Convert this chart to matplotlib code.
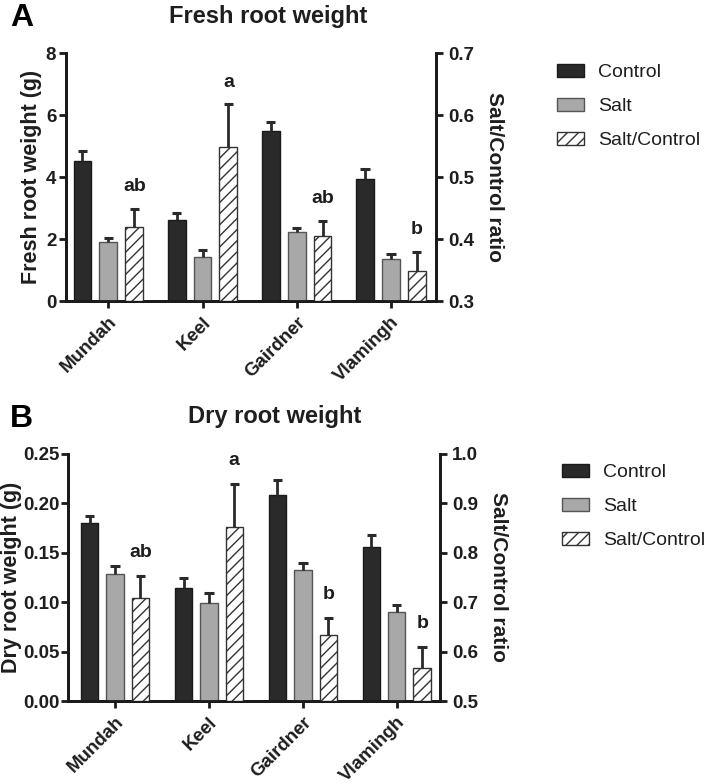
import matplotlib
matplotlib.use("Agg")
import matplotlib.pyplot as plt
from matplotlib.patches import Patch
import numpy as np

plt.rcParams['font.family'] = ['Liberation Sans', 'DejaVu Sans']
plt.rcParams['hatch.linewidth'] = 1.0
plt.rcParams['hatch.color'] = '#222222'

cultivars = ['Mundah', 'Keel', 'Gairdner', 'Vlamingh']

# Fresh root weight (g)
fresh_control = [4.53, 2.60, 5.48, 3.95]
fresh_control_err = [0.30, 0.25, 0.31, 0.32]
fresh_salt = [1.90, 1.43, 2.21, 1.37]
fresh_salt_err = [0.14, 0.20, 0.15, 0.14]
fresh_ratio = [0.420, 0.548, 0.405, 0.349]
fresh_ratio_err = [0.029, 0.069, 0.024, 0.030]
fresh_letters = ['ab', 'a', 'ab', 'b']

# Dry root weight (g)
dry_control = [0.180, 0.114, 0.209, 0.156]
dry_control_err = [0.007, 0.010, 0.015, 0.012]
dry_salt = [0.129, 0.099, 0.133, 0.090]
dry_salt_err = [0.008, 0.010, 0.007, 0.007]
dry_ratio = [0.709, 0.852, 0.634, 0.567]
dry_ratio_err = [0.044, 0.088, 0.034, 0.042]
dry_letters = ['ab', 'a', 'b', 'b']

DARK = '#2a2a2a'
GREY = '#a8a8a8'
TXT = '#1e1e1e'


def err_up(ax, x, vals, errs, half):
    vals = np.array(vals)
    tops = vals + np.array(errs)
    ax.vlines(x, vals, tops, color=DARK, lw=2.0, zorder=4)
    ax.hlines(tops, x - half, x + half, color=DARK, lw=2.2, zorder=4)
    return tops


def panel(rect, ctrl, ctrl_e, salt, salt_e, ratio, ratio_e, letters,
          ylim, yticks, yfmt, rlim, rticks, ylabel, xlim, off, width,
          letter_pad, ylab_x, ypad):
    ax = fig.add_axes(rect)
    ax2 = ax.twinx()
    x = np.arange(len(cultivars))

    ax.bar(x - off, ctrl, width, color=DARK, edgecolor='#1a1a1a', lw=1.0, zorder=3)
    ax.bar(x, salt, width, color=GREY, edgecolor='#555555', lw=1.0, zorder=3)
    err_up(ax, x - off, ctrl, ctrl_e, 0.05)
    err_up(ax, x, salt, salt_e, 0.05)

    base = rlim[0]
    ax2.bar(x + off, np.array(ratio) - base, width, bottom=base, color='white',
            edgecolor='#333333', hatch='///', lw=1.0, zorder=3)
    tops = err_up(ax2, x + off, ratio, ratio_e, 0.05)
    for xi, t, lab in zip(x + off, tops, letters):
        ax2.annotate(lab, (xi, t), xytext=(0, letter_pad), textcoords='offset points',
                     ha='center', va='center', fontsize=14, fontweight='bold', color=TXT)

    ax.set_xlim(*xlim)
    ax.set_ylim(*ylim)
    ax2.set_ylim(*rlim)
    ax.set_yticks(yticks)
    ax.set_yticklabels([yfmt.format(v) for v in yticks])
    ax2.set_yticks(rticks)
    ax2.set_yticklabels(['{:.1f}'.format(v) for v in rticks])
    ax.set_xticks(x)
    ax.set_xticklabels(cultivars, rotation=45, ha='right', va='top',
                       rotation_mode='anchor', fontsize=13.5, fontweight='bold', color=TXT)

    for a in (ax, ax2):
        a.spines['top'].set_visible(False)
        for s in ('left', 'right', 'bottom'):
            a.spines[s].set_linewidth(2.0)
            a.spines[s].set_color('#1a1a1a')
        a.tick_params(width=2.0, length=5, color='#1a1a1a', labelsize=13.5, labelcolor=TXT)
        for lab in a.get_yticklabels():
            lab.set_fontweight('bold')
    ax.tick_params(axis='y', pad=ypad)
    ax.tick_params(axis='x', pad=4)
    ax.set_ylabel(ylabel, fontsize=15.5, fontweight='bold', color=TXT)
    ax.yaxis.set_label_coords(ylab_x, 0.5)
    ax2.set_ylabel('Salt/Control ratio', fontsize=15, fontweight='bold', color=TXT,
                   rotation=-90, labelpad=22)
    return ax, ax2


fig = plt.figure(figsize=(7.08, 7.84), dpi=100)

panel([66 / 708, 1 - 301 / 784, 370 / 708, 248 / 784],
      fresh_control, fresh_control_err, fresh_salt, fresh_salt_err,
      fresh_ratio, fresh_ratio_err, fresh_letters,
      (0, 8), [0, 2, 4, 6, 8], '{:.0f}', (0.3, 0.7), [0.3, 0.4, 0.5, 0.6, 0.7],
      'Fresh root weight (g)', (-0.45, 3.48), 0.275, 0.19, 16, -0.065, 2)

panel([68 / 708, 1 - 701 / 784, 372 / 708, 247 / 784],
      dry_control, dry_control_err, dry_salt, dry_salt_err,
      dry_ratio, dry_ratio_err, dry_letters,
      (0, 0.25), [0, 0.05, 0.10, 0.15, 0.20, 0.25], '{:.2f}', (0.5, 1.0),
      [0.5, 0.6, 0.7, 0.8, 0.9, 1.0],
      'Dry root weight (g)', (-0.5, 3.46), 0.27, 0.185, 17, -0.124, 1)

fig.text(268 / 708, 1 - 16 / 784, 'Fresh root weight', ha='center', va='center',
         fontsize=17, fontweight='bold', color=TXT)
fig.text(275 / 708, 1 - 416 / 784, 'Dry root weight', ha='center', va='center',
         fontsize=17, fontweight='bold', color=TXT)
fig.text(10 / 708, 1 - 18 / 784, 'A', ha='left', va='center', fontsize=23,
         fontweight='bold', color='black')
fig.text(10 / 708, 1 - 419 / 784, 'B', ha='left', va='center', fontsize=23,
         fontweight='bold', color='black')

handles = [Patch(facecolor=DARK, edgecolor='#1a1a1a', lw=1.0),
           Patch(facecolor=GREY, edgecolor='#555555', lw=1.0),
           Patch(facecolor='white', edgecolor='#333333', hatch='///', lw=1.0)]
labels = ['Control', 'Salt', 'Salt/Control']
for lx, ly in [(557, 64), (562, 464)]:
    fig.legend(handles, labels, loc='upper left', bbox_to_anchor=(lx / 708, 1 - ly / 784),
               frameon=False, fontsize=14, handlelength=1.4, handleheight=0.65,
               handletextpad=0.72, labelspacing=0.85, borderpad=0, borderaxespad=0,
               labelcolor=TXT)

fig.savefig('out.png', dpi=100)
